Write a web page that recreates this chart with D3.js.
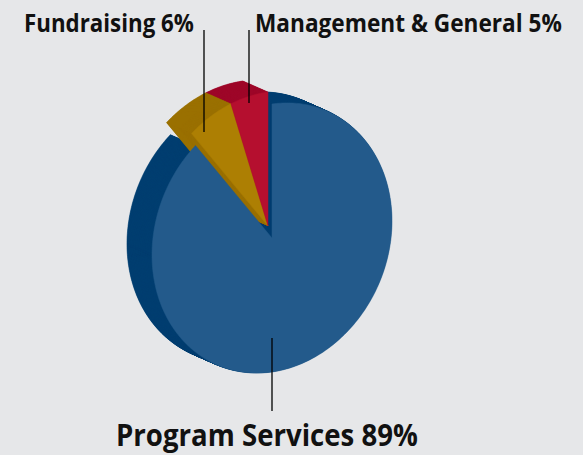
<!DOCTYPE html>
<html><head><meta charset="utf-8">
<script src="https://cdn.jsdelivr.net/npm/d3@7"></script>
<style>html,body{margin:0;padding:0;background:#e6e7e9;} svg{display:block}</style>
</head><body>
<svg id="chart" width="583" height="455"></svg>
<script>
// ---- data ----
const categories = ["Program Services", "Fundraising", "Management & General"];
const values = [89, 6, 5];
const percentLabels = ["89%", "6%", "5%"];
const faceColors = ["#235a8b", "#ad7f03", "#b50f2f"];
const sideColors = ["#003e70", "#9a7000", "#9e0729"];

// ---- layout ----
const W = 583, H = 455;
const cx = 272, cy = 238;
const ax = [120, -17];   // screen vector for sin(angle)
const bx = [0, -134];    // screen vector for cos(angle)
const depth = [-25, -11];
const explode = [[0, 0], [-4, -12], [-4, -12]];
const sideOrder = [0, 2, 1];
const labelPos = [
  {x: 116, y: 446, size: 30, len: 302, line: [272, 338, 272, 411]},
  {x: 24,  y: 32,  size: 25, len: 170, line: [204, 30, 204, 132]},
  {x: 255, y: 32,  size: 25, len: 307, line: [249, 30, 249, 103]}
];

const svg = d3.select("#chart");
svg.append("rect").attr("width", W).attr("height", H).attr("fill", "#e6e7e9");

const pie = d3.pie().sort(null).value(d => d).startAngle(0).endAngle(2 * Math.PI);
const arcs = pie(values);
const rScale = d3.scaleLinear().domain([0, 1]).range([0, 1]);

function proj(a, r, off) {
  const s = Math.sin(a), c = Math.cos(a), k = rScale(r);
  return [cx + off[0] + k * (ax[0] * s + bx[0] * c),
          cy + off[1] + k * (ax[1] * s + bx[1] * c)];
}
function slicePoints(d, off) {
  const pts = [proj(0, 0, off)];
  const n = Math.max(2, Math.ceil((d.endAngle - d.startAngle) / (Math.PI / 180)));
  for (let i = 0; i <= n; i++) {
    const a = d.startAngle + (d.endAngle - d.startAngle) * i / n;
    pts.push(proj(a, 1, off));
  }
  return pts;
}
const line = d3.line().curve(d3.curveLinearClosed);

// sides (extrusion)
const N = 40;
const gSides = svg.append("g");
sideOrder.forEach(i => {
  const d = arcs[i];
  for (let k = N; k >= 1; k--) {
    const off = [explode[i][0] + depth[0] * k / N, explode[i][1] + depth[1] * k / N];
    gSides.append("path").attr("d", line(slicePoints(d, off)))
      .attr("fill", sideColors[i]).attr("stroke", sideColors[i]).attr("stroke-width", 0.6);
  }
});
// faces
const gFaces = svg.append("g");
arcs.forEach((d, i) => {
  gFaces.append("path").attr("d", line(slicePoints(d, explode[i])))
    .attr("fill", faceColors[i]).attr("stroke", faceColors[i]).attr("stroke-width", 0.5);
});

// leader lines and labels
const gLab = svg.append("g");
labelPos.forEach((p, i) => {
  gLab.append("line").attr("x1", p.line[0]).attr("y1", p.line[1])
    .attr("x2", p.line[2]).attr("y2", p.line[3])
    .attr("stroke", "#000").attr("stroke-width", 1.3);
  const g = gLab.append("g");
  const t = g.append("text").attr("x", 0).attr("y", 0)
    .attr("font-family", "'Open Sans', 'DejaVu Sans', sans-serif")
    .attr("font-weight", 700).attr("font-size", p.size)
    .attr("fill", "#111")
    .text(categories[i] + " " + percentLabels[i]);
  const natural = t.node().getComputedTextLength() || p.len;
  const sx = p.len / natural;
  g.attr("transform", `translate(${p.x},${p.y}) scale(${sx},1)`);
});
</script>
</body></html>
